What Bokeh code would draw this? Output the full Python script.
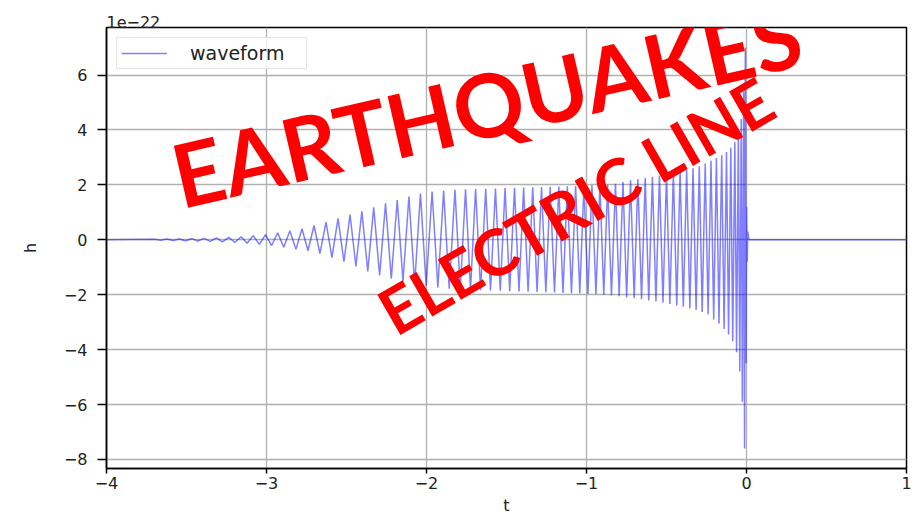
from bokeh.plotting import figure
from bokeh.models import Range1d, Label, FixedTicker
from bokeh.embed import file_html
from bokeh.resources import INLINE

# ---- data (h in units of 1e-22) ----
crest_t = [-3.700, -3.623, -3.545, -3.468, -3.390, -3.313, -3.236, -3.159, -3.083, -3.006,
           -2.930, -2.854, -2.778, -2.703, -2.628, -2.553, -2.478, -2.404, -2.330, -2.256,
           -2.183, -2.110, -2.038, -1.965, -1.893, -1.822, -1.756, -1.693, -1.630, -1.569,
           -1.509, -1.450, -1.393, -1.336, -1.281, -1.227, -1.173, -1.120, -1.068, -1.016,
           -0.966, -0.916, -0.868, -0.819, -0.772, -0.725, -0.679, -0.633, -0.588, -0.544,
           -0.500, -0.457, -0.415, -0.374, -0.334, -0.295, -0.258, -0.222, -0.188, -0.155,
           -0.125, -0.098, -0.073, -0.051, -0.033, -0.018, -0.0075]
crest_h = [0.02, 0.025, 0.03, 0.04, 0.05, 0.07, 0.09, 0.11, 0.15,
           0.19, 0.25, 0.33, 0.40, 0.52, 0.64, 0.78, 0.92, 1.04, 1.18, 1.33, 1.45, 1.57, 1.68, 1.76, 1.79, 1.82,
           1.84, 1.85, 1.86, 1.87, 1.88, 1.89, 1.90, 1.91, 1.92, 1.93, 1.94, 1.95, 1.96, 1.97, 1.98, 1.99,
           2.00, 2.04, 2.10, 2.17, 2.21, 2.25, 2.29, 2.34, 2.40, 2.44, 2.49, 2.54, 2.60, 2.68, 2.78,
           2.88, 2.98, 3.08, 3.20, 3.35, 3.55, 3.85, 4.40, 5.40, 7.00]
trough_t = [-3.661, -3.584, -3.507, -3.429, -3.352, -3.275, -3.198, -3.121, -3.045, -2.968,
            -2.892, -2.816, -2.741, -2.666, -2.591, -2.516, -2.441, -2.367, -2.293, -2.220,
            -2.147, -2.074, -2.002, -1.929, -1.858, -1.789, -1.725, -1.662, -1.600, -1.539,
            -1.480, -1.422, -1.365, -1.309, -1.254, -1.200, -1.147, -1.094, -1.042, -0.991,
            -0.941, -0.892, -0.844, -0.796, -0.749, -0.702, -0.656, -0.611, -0.566, -0.522,
            -0.479, -0.436, -0.395, -0.354, -0.315, -0.277, -0.240, -0.205, -0.172, -0.140,
            -0.112, -0.086, -0.062, -0.042, -0.026, -0.012]
trough_h = [-0.02, -0.025, -0.035, -0.045, -0.06, -0.08, -0.10, -0.13, -0.17, -0.21, -0.27, -0.35,
            -0.40, -0.50, -0.65, -0.80, -0.97, -1.15, -1.30, -1.42, -1.51, -1.61, -1.68, -1.74, -1.78, -1.82,
            -1.83, -1.84, -1.85, -1.86, -1.87, -1.88, -1.89, -1.90, -1.91, -1.92, -1.94, -1.95, -1.96, -1.97, -1.98, -2.00,
            -2.03, -2.06, -2.10, -2.13, -2.17, -2.21, -2.25, -2.29, -2.34, -2.39, -2.44, -2.50, -2.56, -2.63, -2.71,
            -2.90, -3.05, -3.25, -3.45, -3.70, -4.10, -4.80, -5.90, -7.60]
ring_t = [-0.003, 0.0006, 0.0044, 0.0081, 0.0156]
ring_h = [-4.5, 1.2, -0.8, 0.3, 0.0]
lead_t, lead_h = [-4.0], [0.0]
tail_t, tail_h = [1.0], [0.0]

x_ticks = [-4, -3, -2, -1, 0, 1]
y_ticks = [-8, -6, -4, -2, 0, 2, 4, 6]
scale_text = "1e\u221222"
series_name = "waveform"
overlay_1 = "EARTHQUAKES"
overlay_2 = "ELECTRIC LINE"

pts = sorted(zip(lead_t + crest_t + trough_t + ring_t + tail_t,
                 lead_h + crest_h + trough_h + ring_h + tail_h))
ts = [q[0] for q in pts]
hs = [q[1] for q in pts]

def fmt(v):
    return str(int(v)).replace("-", "\u2212")

p = figure(width=920, height=518, output_backend="svg", toolbar_location=None,
           x_range=Range1d(-4, 1), y_range=Range1d(-8.33, 7.73),
           min_border_left=106, min_border_right=14, min_border_top=27, min_border_bottom=50)
p.background_fill_color = "white"
p.border_fill_color = "white"
p.outline_line_color = "black"
p.outline_line_width = 1.5

p.title.text = scale_text
p.title.align = "left"
p.title.text_font = "DejaVu Sans"
p.title.text_font_size = "16px"
p.title.text_font_style = "normal"
p.title.text_color = "#222222"
p.title.standoff = 0
p.title.offset = 0

p.line(ts, hs, line_color="blue", line_alpha=0.5, line_width=1.5, legend_label=series_name)

for ax in (p.xaxis[0], p.yaxis[0]):
    ax.axis_line_color = "black"
    ax.axis_line_width = 1.5
    ax.major_tick_line_color = "black"
    ax.major_tick_line_width = 1.5
    ax.major_tick_in = 0
    ax.minor_tick_line_color = None
    ax.major_label_text_font = "DejaVu Sans"
    ax.major_label_text_font_size = "16px"
    ax.major_label_text_color = "#222222"
    ax.axis_label_text_font = "DejaVu Sans"
    ax.axis_label_text_font_size = "16px"
    ax.axis_label_text_font_style = "normal"
    ax.axis_label_text_color = "#222222"

p.xaxis.ticker = FixedTicker(ticks=x_ticks)
p.yaxis.ticker = FixedTicker(ticks=y_ticks)
p.xaxis.major_label_overrides = {v: fmt(v) for v in x_ticks}
p.yaxis.major_label_overrides = {v: fmt(v) for v in y_ticks}
p.xaxis.major_tick_out = 5
p.yaxis.major_tick_out = 9
p.xaxis.major_label_standoff = 3
p.yaxis.major_label_standoff = 10
p.xaxis.axis_label = "t"
p.yaxis.axis_label = "h"
p.xaxis.axis_label_standoff = 4
p.yaxis.axis_label_standoff = 21

p.grid.grid_line_color = "#b0b0b0"
p.grid.grid_line_width = 1.3

lg = p.legend[0]
lg.location = "top_left"
lg.margin = 10
lg.padding = 4
lg.spacing = 0
lg.glyph_width = 46
lg.glyph_height = 14
lg.label_standoff = 23
lg.label_width = 112
lg.label_text_font = "DejaVu Sans"
lg.label_text_font_size = "19px"
lg.label_text_color = "#222222"
lg.border_line_color = "#cccccc"
lg.border_line_width = 1.2
lg.background_fill_alpha = 0.8

p.add_layout(Label(x=-1.625, y=4.95, text=overlay_1, angle=0.2269, text_font="Lato",
                   text_font_style="bold", text_font_size="88px", text_color="#ff0000",
                   text_baseline="middle", text_align="center"))
p.add_layout(Label(x=-1.069, y=1.25, text=overlay_2, angle=0.5236, text_font="Lato",
                   text_font_style="bold", text_font_size="64px", text_color="#ff0000",
                   text_baseline="middle", text_align="center"))

open("out.html", "w").write(file_html(p, INLINE))
